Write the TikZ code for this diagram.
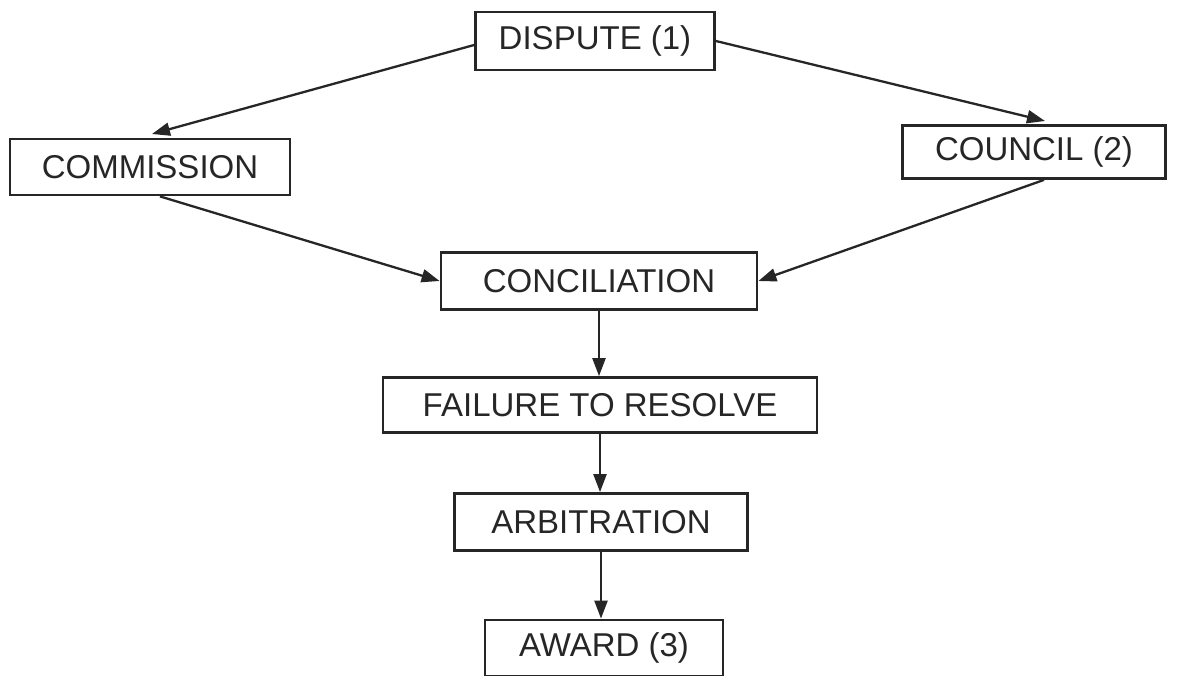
\documentclass[tikz,border=0pt]{standalone}
\usepackage{fontspec}
\setmainfont{Liberation Sans}
\usetikzlibrary{arrows.meta}
\begin{document}
\begin{tikzpicture}[x=1pt,y=-1pt,
  box/.style={draw=black!85,line width=2.8pt,fill=white,inner sep=0pt,
    font=\fontsize{33}{33}\selectfont,text=black!85},
  arr/.style={draw=black!85,line width=2.3pt,-{Triangle[length=18pt,width=13pt]}}]
\useasboundingbox (0,0) rectangle (1185,675);
\fill[white] (0,0) rectangle (1185,675);
\node[box,minimum width=239pt,minimum height=58pt] (dis) at (595,41) {DISPUTE (1)};
\node[box,minimum width=280pt,minimum height=56pt] (com) at (150,167) {COMMISSION};
\node[box,minimum width=263pt,minimum height=53pt] (cou) at (1034,152) {COUNCIL (2)};
\node[box,minimum width=316pt,minimum height=57pt] (con) at (599,281) {CONCILIATION};
\node[box,minimum width=434pt,minimum height=55pt] (fai) at (600,405) {FAILURE TO RESOLVE};
\node[box,minimum width=293pt,minimum height=57pt] (arb) at (601,522) {ARBITRATION};
\node[box,minimum width=238pt,minimum height=56pt] (awa) at (604,648) {AWARD (3)};
\draw[arr] (dis.west) ++(0,4) -- (152,134);
\draw[arr] (dis.east) -- (1045,121);
\draw[arr] (com.south) ++(10,0) -- (con.west);
\draw[arr] (cou.south) ++(10,0) -- (con.east);
\draw[arr] (con.south) -- (con.south |- fai.north);
\draw[arr] (fai.south) -- (fai.south |- arb.north);
\draw[arr] (arb.south) -- (arb.south |- awa.north);
\end{tikzpicture}
\end{document}
